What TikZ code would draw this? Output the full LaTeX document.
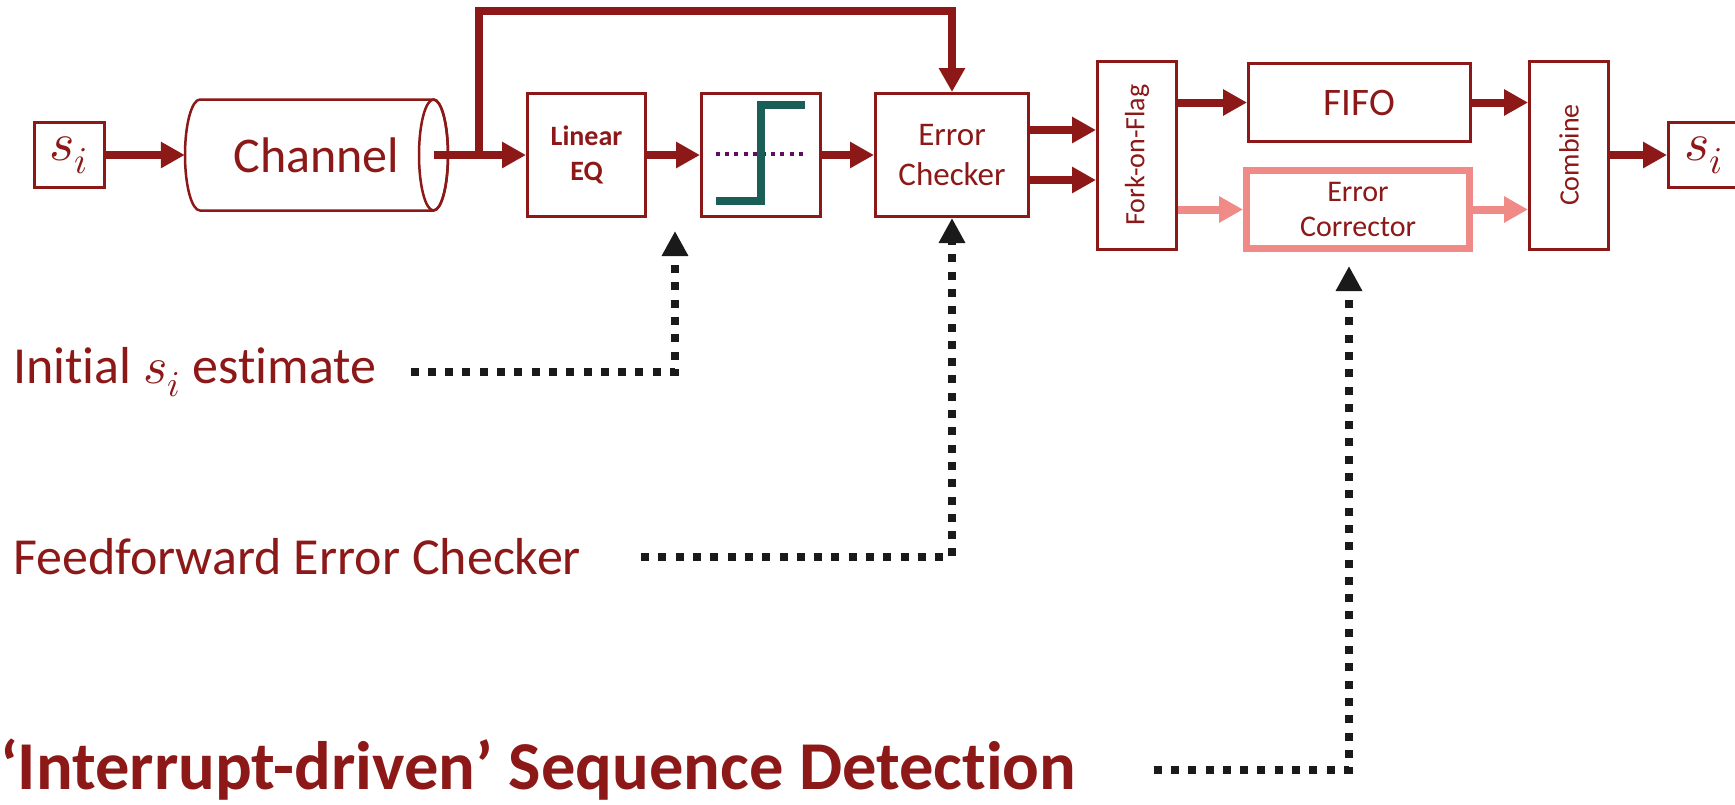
\documentclass[tikz,border=0pt]{standalone}
\usepackage{fontspec}
\usepackage{unicode-math}
\usepackage{graphicx}
\setmainfont{Carlito}[Ligatures={NoCommon}]
\setmathfont{Latin Modern Math}
\usetikzlibrary{arrows.meta}

\definecolor{wine}{RGB}{140,24,24}
\definecolor{salmon}{RGB}{240,138,135}
\definecolor{slicergreen}{RGB}{27,94,85}
\definecolor{slicerdots}{RGB}{96,12,96}
\definecolor{hintblack}{RGB}{26,26,26}

\tikzset{
  blk/.style={draw=wine, line width=3pt, fill=white, text=wine, align=center, inner sep=0pt},
  flow/.style={wine, line width=8pt, -{Triangle[length=24pt,width=25pt]}},
  weak/.style={flow, salmon},
  hint/.style={hintblack, line width=8pt, dash pattern=on 8pt off 9.3pt, -{Triangle[length=25pt,width=25pt]}},
  note/.style={anchor=west, inner sep=0pt, text=wine},
}

\begin{document}
\begin{tikzpicture}[x=1pt,y=-1pt]
  \useasboundingbox (0,0) rectangle (1735,804);

  % Channel as a cylinder
  \draw[wine, line width=2.5pt, fill=white] (200,99.5) -- (433.5,99.5)
    arc[start angle=-90, end angle=90, x radius=14.5, y radius=55.5]
    -- (200,210.5) arc[start angle=90, end angle=270, x radius=15, y radius=55.5] -- cycle;
  \draw[wine, line width=2.5pt] (433.5,155) ellipse[x radius=14.5, y radius=55.5];
  \node[minimum width=263pt, minimum height=111pt, inner sep=0pt, text=wine,
        font=\fontsize{50}{60}\selectfont] (chan) at (316.5,155) {Channel};
  \coordinate (chanout) at (433.5,155);
  \coordinate (tap) at (479,155);

  % Blocks
  \node[blk, minimum width=70pt, minimum height=65pt, font=\fontsize{54}{56}\selectfont] (siL) at (69,155) {$s_i$};
  \node[blk, minimum width=118pt, minimum height=123pt, font=\bfseries\fontsize{28}{35}\selectfont] (lineq) at (586.5,155) {Linear\\EQ};
  \node[blk, minimum width=119pt, minimum height=123pt] (slicer) at (761,155) {};
  \node[blk, minimum width=153pt, minimum height=123pt, font=\fontsize{33}{40}\selectfont] (chk) at (952,155) {Error\\Checker};
  \node[blk, minimum width=79pt, minimum height=188pt, font=\fontsize{28}{34}\selectfont] (fork) at (1137,155) {\rotatebox{90}{Fork-on-Flag}};
  \node[blk, minimum width=222pt, minimum height=78pt, font=\fontsize{39}{44}\selectfont] (fifo) at (1359.5,102.5) {FIFO};
  \node[blk, draw=salmon, line width=7pt, minimum width=223pt, minimum height=78pt, font=\fontsize{30}{35}\selectfont] (corr) at (1358,209.5) {Error\\Corrector};
  \node[blk, minimum width=79pt, minimum height=188pt, font=\fontsize{28}{34}\selectfont] (comb) at (1569,155) {\rotatebox{90}{Combine}};
  \node[blk, minimum width=70pt, minimum height=65pt, font=\fontsize{54}{56}\selectfont] (siR) at (1703.5,155) {$s_i$};

  % Slicer characteristic
  \draw[slicerdots, line width=4pt, dash pattern=on 4pt off 5.2pt] (716,154) -- (805,154);
  \draw[slicergreen, line width=8pt] (716,201) -- (761,201) -- (761,104.5) -- (805,104.5);

  % Data flow
  \draw[flow] (siL) -- (chan);
  \draw[flow] (chanout) -- (lineq);
  \draw[flow] (tap) -- ++(0,-144) -| (chk.north);
  \draw[flow] (lineq) -- (slicer);
  \draw[flow] (slicer) -- (chk);
  \draw[flow] ([yshift=25pt]chk.east) -- ([yshift=25pt]fork.west);
  \draw[flow] ([yshift=-25pt]chk.east) -- ([yshift=-25pt]fork.west);
  \draw[flow] (fork.east |- fifo) -- (fifo);
  \draw[weak] (fork.east |- corr) -- (corr);
  \draw[flow] (fifo) -- (fifo -| comb.west);
  \draw[weak] (corr) -- (corr -| comb.west);
  \draw[flow] (comb) -- (siR);

  % Annotations
  \node[note, font=\fontsize{52}{61}\selectfont] (init) at (13,372) {Initial $s_i$ estimate};
  \node[note, font=\fontsize{52}{61}\selectfont] (ffwd) at (13,557) {Feedforward Error Checker};
  \node[note, font=\bfseries\fontsize{68.5}{80}\selectfont] (intr) at (0,770) {‘Interrupt-driven’ Sequence Detection};
  \coordinate (eqtip) at (675,231);
  \coordinate (corrtip) at (1349,266);
  \draw[hint] ([xshift=34pt]init.east) -| (eqtip);
  \draw[hint] ([xshift=60pt]ffwd.east) -| (chk.south);
  \draw[hint] ([xshift=77pt]intr.east) -| (corrtip);
\end{tikzpicture}
\end{document}
